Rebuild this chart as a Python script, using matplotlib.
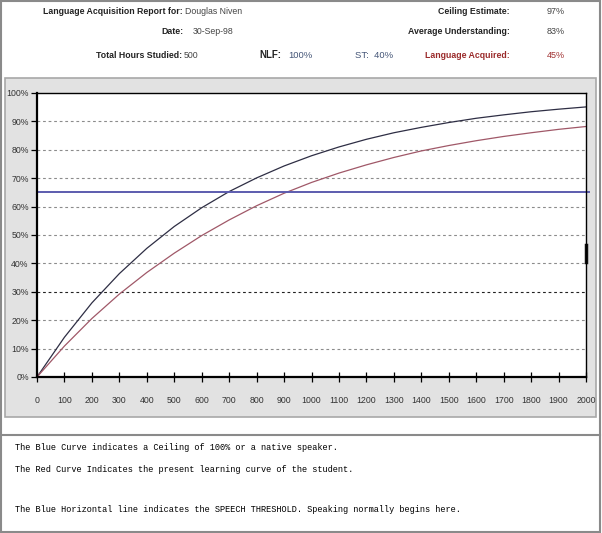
import matplotlib
matplotlib.use("Agg")
import matplotlib.pyplot as plt
from matplotlib.patches import Rectangle
from matplotlib.ticker import FuncFormatter

# Data (hours studied vs. percent acquired)
hours = [0, 100, 200, 300, 400, 500, 600, 700, 800, 900, 1000,
         1100, 1200, 1300, 1400, 1500, 1600, 1700, 1800, 1900, 2000]
ceiling_curve = [0, 14.0, 26.1, 36.4, 45.3, 53.0, 59.6, 65.3, 70.1, 74.3, 77.9,
                 81.0, 83.7, 86.0, 87.9, 89.6, 91.1, 92.3, 93.4, 94.3, 95.1]
student_curve = [0, 10.9, 20.6, 29.2, 36.8, 43.6, 49.8, 55.3, 60.3, 64.7, 68.5,
                 71.8, 74.7, 77.3, 79.6, 81.5, 83.2, 84.7, 86.0, 87.2, 88.2]
speech_threshold = 65
acquired_marker = [40.5, 46.5]  # small dark mark on the right edge
y_ticks = [0, 10, 20, 30, 40, 50, 60, 70, 80, 90, 100]

header_rows = [
    ("Language Acquisition Report for:", "Douglas Niven", "Ceiling Estimate:", "97%"),
    ("Date:", "30-Sep-98", "Average Understanding:", "83%"),
    ("Total Hours Studied:", "500", "Language Acquired:", "45%"),
]
nlf_text = ("NLF:", "100%")
st_text = "ST:  40%"
notes = [
    "The Blue Curve indicates a Ceiling of 100% or a native speaker.",
    "The Red Curve Indicates the present learning curve of the student.",
    "",
    "The Blue Horizontal line indicates the SPEECH THRESHOLD. Speaking normally begins here.",
]

W, H = 602, 533


def fx(px):
    return px / W


def fy(py):
    return 1 - py / H


fig = plt.figure(figsize=(W / 100, H / 100), dpi=100)
fig.patch.set_facecolor("white")

# Outer frame and grey chart panel (kept behind the axes)
fig.add_artist(Rectangle((fx(1), fy(532)), fx(599), 531 / H, transform=fig.transFigure,
                         facecolor="none", edgecolor="#8a8a8a", lw=1.5, zorder=-2))
fig.add_artist(Rectangle((fx(5), fy(417)), fx(591), 339 / H, transform=fig.transFigure,
                         facecolor="#e2e2e2", edgecolor="#a8a8a8", lw=1.2, zorder=-1))
fig.add_artist(plt.Line2D([fx(1), fx(600)], [fy(435), fy(435)], transform=fig.transFigure,
                          color="#8a8a8a", lw=1.5, zorder=-1))

# Header text
sans = "Liberation Sans"
row_y = [11, 32, 55]
label_right = [183, 183, 182]
for i, (lab, val, rlab, rval) in enumerate(header_rows):
    y = fy(row_y[i])
    fig.text(fx(label_right[i]), y, lab, ha="right", va="center", fontsize=6.3,
             fontweight="bold", family=sans, color="#222222")
    fig.text(fx(label_right[i] + (10 if i == 1 else 2)), y, val, ha="left", va="center",
             fontsize=6.3, family=sans, color="#444444")
    red = i == 2
    fig.text(fx(510), y, rlab, ha="right", va="center", fontsize=6.3, fontweight="bold",
             family=sans, color="#9a2a2a" if red else "#222222")
    fig.text(fx(565), y, rval, ha="right", va="center", fontsize=6.5, family=sans,
             color="#a03030" if red else "#444444")
fig.text(fx(259), fy(55), nlf_text[0], ha="left", va="center", fontsize=7,
         fontweight="bold", family=sans, color="#222222")
fig.text(fx(288), fy(55), nlf_text[1], ha="left", va="center", fontsize=6.8,
         family=sans, color="#445577")
fig.text(fx(355), fy(55), st_text, ha="left", va="center", fontsize=6.8,
         family=sans, color="#445577")

# Plot area
ax = fig.add_axes([fx(37), fy(377), (586 - 37) / W, (377 - 93) / H])
ax.set_facecolor("white")
ax.plot(hours, ceiling_curve, color="#2e2e44", lw=0.9)
ax.plot(hours, student_curve, color="#a05868", lw=0.9)
ax.plot([0, 2010], [speech_threshold, speech_threshold], color="#5c5cae", lw=1.4,
        clip_on=False)
ax.plot([2000, 2000], acquired_marker, color="#111111", lw=2.5, clip_on=False)

for t in y_ticks[1:-1]:
    ax.axhline(t, color="#222222" if t == 30 else "#8c8c8c", lw=0.8,
               dashes=(2.5, 2.5), zorder=0)

ax.set_xlim(0, 2000)
ax.set_ylim(0, 100)
ax.set_xticks(hours)
ax.set_yticks(y_ticks)
ax.yaxis.set_major_formatter(FuncFormatter(lambda v, p: f"{int(v)}%"))
ax.tick_params(axis="x", direction="inout", length=7, width=0.9, pad=10,
               labelsize=6.3, labelcolor="#333333")
ax.tick_params(axis="y", direction="out", length=4, width=0.9, pad=2,
               labelsize=6.3, labelcolor="#333333")
for lab in ax.get_xticklabels() + ax.get_yticklabels():
    lab.set_family(sans)
for side in ["left", "bottom"]:
    ax.spines[side].set_linewidth(1.6)
for side in ["top", "right"]:
    ax.spines[side].set_linewidth(1.0)

# Notes below the chart
note_y = [448, 469, 490, 510]
for y, line in zip(note_y, notes):
    if line:
        fig.text(fx(15), fy(y), line, ha="left", va="center", fontsize=6.2,
                 family="Liberation Mono", color="#000000")

fig.savefig("out.png", dpi=100)
